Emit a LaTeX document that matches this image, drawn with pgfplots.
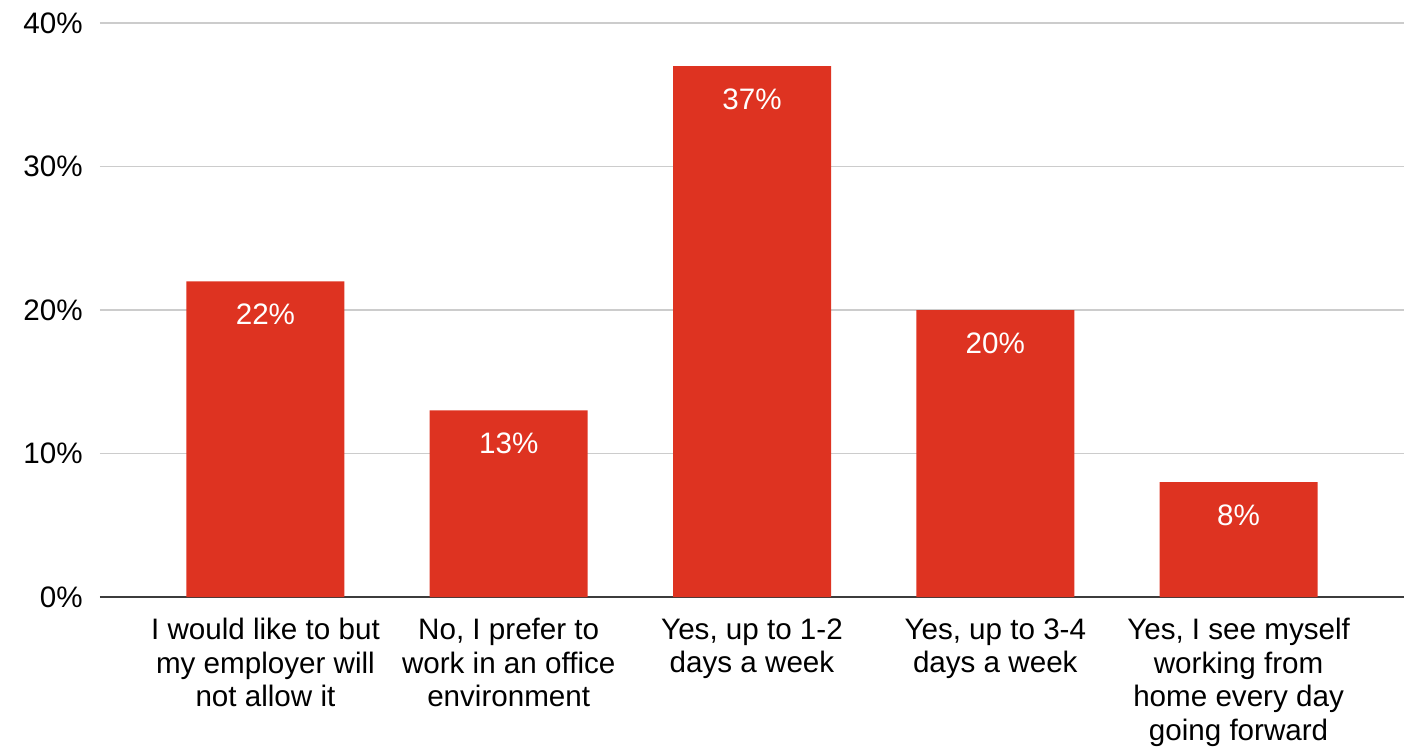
\documentclass[border=0pt]{standalone}
\usepackage{pgfplots}
\pgfplotsset{compat=1.18}
\usepackage{fontspec}
\setmainfont{Liberation Sans}
\definecolor{barred}{RGB}{222,51,33}
\definecolor{gridgray}{RGB}{204,204,204}
\definecolor{axisdark}{RGB}{60,60,60}
\begin{document}
\begin{tikzpicture}
\useasboundingbox (-50pt,-74.5pt) rectangle (657pt,298.5pt);
\begin{axis}[
  at={(0,0)}, anchor=south west,
  scale only axis,
  width=652pt, height=287pt,
  xmin=-0.68, xmax=4.68,
  ymin=0, ymax=40,
  ytick={0,10,20,30,40},
  xtick={0,1,2,3,4},
  xticklabels={{I would like to but\\my employer will\\not allow it},{No, I prefer to\\work in an office\\environment},{Yes, up to 1-2\\days a week},{Yes, up to 3-4\\days a week},{Yes, I see myself\\working from\\home every day\\going forward}},
  /pgf/number format/assume math mode=true,
  yticklabel={\pgfmathprintnumber{\tick}\%},
  axis x line*=bottom, axis y line*=left,
  y axis line style={draw=none},
  x axis line style={draw=axisdark, line width=1pt, -},
  major tick length=0pt,
  ymajorgrids, grid style={gridgray, line width=0.8pt},
  ticklabel style={font=\fontsize{14.8}{16.75}\selectfont, text=black},
  yticklabel style={anchor=east, inner sep=0pt, xshift=-8.5pt},
  xticklabel style={align=center, anchor=north, inner sep=0pt, yshift=-10.5pt},
  ybar, bar width=79pt,
  nodes near coords={\pgfmathprintnumber{\pgfplotspointmeta}\%},
  nodes near coords style={anchor=north, inner sep=0pt, yshift=-11pt, text=white, font=\fontsize{14.8}{16.75}\selectfont},
]
\addplot[fill=barred, draw=none] coordinates {(0,22) (1,13) (2,37) (3,20) (4,8)};
\end{axis}
\end{tikzpicture}
\end{document}
